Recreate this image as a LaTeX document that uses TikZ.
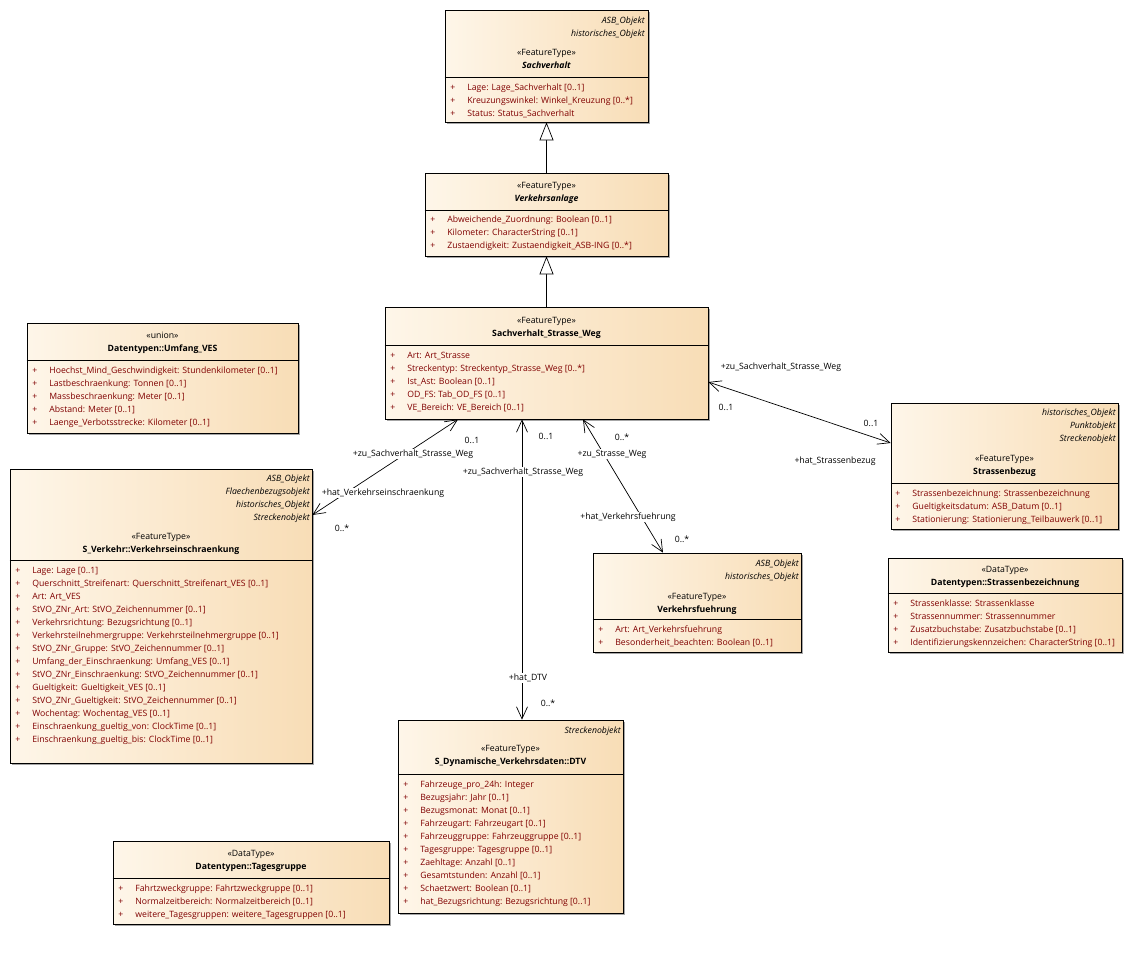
\documentclass[tikz,border=0pt]{standalone}
\usepackage{fontspec}
\setmainfont{Open Sans}
\usetikzlibrary{arrows.meta,fit,shadows}

\definecolor{boxl}{RGB}{254,246,233}
\definecolor{boxr}{RGB}{248,221,182}
\definecolor{attrred}{RGB}{128,0,0}
\newcommand{\umlfont}{\fontsize{8.7}{13}\selectfont}
\newcommand{\attrs}[1]{\begin{tabular}[t]{@{}p{17pt}@{}l@{}}#1\end{tabular}}

\tikzset{
  cls/.style={draw, inner sep=0, left color=boxl, right color=boxr,
    drop shadow={shadow xshift=2pt, shadow yshift=-2pt, fill=black!35, opacity=1}},
  tags/.style={font=\umlfont\itshape, align=right, anchor=base east, inner sep=0},
  head/.style={font=\umlfont, align=center, anchor=base, inner sep=0},
  attr/.style={font=\umlfont, text=attrred, anchor=base west, inner sep=0},
  role/.style={font=\umlfont, fill=white, inner sep=1pt},
  mult/.style={font=\umlfont, inner sep=0},
  assoc/.style={{Straight Barb[length=12pt,width=11pt]}-{Straight Barb[length=12pt,width=11pt]}},
  gen/.style={-{Triangle[open,length=18pt,width=14pt,fill=white]}}
}

\begin{document}
\begin{tikzpicture}[x=1pt,y=-1pt,line width=0.7pt]
  \fill[white] (0,0) rectangle (1138,954);
  \useasboundingbox (0,0) rectangle (1138,954);

  % Sachverhalt
  \node[cls, fit={(445,10) (648,122)}] (sv) {};
  \draw (sv.west |- 0,77) -- (sv.east |- 0,77);
  \node[tags] at (645,36) {ASB\_Objekt\\historisches\_Objekt};
  \node[head] at (sv.center |- 0,68) {«FeatureType»\\\textbf{\textit{Sachverhalt}}};
  \node[attr] at (450,90) {\attrs{+&Lage: Lage\_Sachverhalt [0..1]\\
    +&Kreuzungswinkel: Winkel\_Kreuzung [0..*]\\
    +&Status: Status\_Sachverhalt}};

  % Verkehrsanlage
  \node[cls, fit={(425,173) (668,256)}] (va) {};
  \draw (va.west |- 0,210) -- (va.east |- 0,210);
  \node[head] at (va.center |- 0,201) {«FeatureType»\\\textbf{\textit{Verkehrsanlage}}};
  \node[attr] at (430,222) {\attrs{+&Abweichende\_Zuordnung: Boolean [0..1]\\
    +&Kilometer: CharacterString [0..1]\\
    +&Zustaendigkeit: Zustaendigkeit\_ASB-ING [0..*]}};

  % Sachverhalt_Strasse_Weg
  \node[cls, fit={(385,307) (708,419)}] (ssw) {};
  \draw (ssw.west |- 0,345) -- (ssw.east |- 0,345);
  \node[head] at (ssw.center |- 0,336) {«FeatureType»\\\textbf{Sachverhalt\_Strasse\_Weg}};
  \node[attr] at (390,358) {\attrs{+&Art: Art\_Strasse\\
    +&Streckentyp: Streckentyp\_Strasse\_Weg [0..*]\\
    +&Ist\_Ast: Boolean [0..1]\\
    +&OD\_FS: Tab\_OD\_FS [0..1]\\
    +&VE\_Bereich: VE\_Bereich [0..1]}};

  % Umfang_VES
  \node[cls, fit={(27,323) (298,433)}] (uv) {};
  \draw (uv.west |- 0,360) -- (uv.east |- 0,360);
  \node[head] at (uv.center |- 0,351) {«union»\\\textbf{Datentypen::Umfang\_VES}};
  \node[attr] at (32,373) {\attrs{+&Hoechst\_Mind\_Geschwindigkeit: Stundenkilometer [0..1]\\
    +&Lastbeschraenkung: Tonnen [0..1]\\
    +&Massbeschraenkung: Meter [0..1]\\
    +&Abstand: Meter [0..1]\\
    +&Laenge\_Verbotsstrecke: Kilometer [0..1]}};

  % Verkehrseinschraenkung
  \node[cls, fit={(10,469) (312,763)}] (ve) {};
  \draw (ve.west |- 0,560) -- (ve.east |- 0,560);
  \node[tags] at (310,520) {ASB\_Objekt\\Flaechenbezugsobjekt\\historisches\_Objekt\\Streckenobjekt};
  \node[head] at (ve.center |- 0,552) {«FeatureType»\\\textbf{S\_Verkehr::Verkehrseinschraenkung}};
  \node[attr] at (15,573) {\attrs{+&Lage: Lage [0..1]\\
    +&Querschnitt\_Streifenart: Querschnitt\_Streifenart\_VES [0..1]\\
    +&Art: Art\_VES\\
    +&StVO\_ZNr\_Art: StVO\_Zeichennummer [0..1]\\
    +&Verkehrsrichtung: Bezugsrichtung [0..1]\\
    +&Verkehrsteilnehmergruppe: Verkehrsteilnehmergruppe [0..1]\\
    +&StVO\_ZNr\_Gruppe: StVO\_Zeichennummer [0..1]\\
    +&Umfang\_der\_Einschraenkung: Umfang\_VES [0..1]\\
    +&StVO\_ZNr\_Einschraenkung: StVO\_Zeichennummer [0..1]\\
    +&Gueltigkeit: Gueltigkeit\_VES [0..1]\\
    +&StVO\_ZNr\_Gueltigkeit: StVO\_Zeichennummer [0..1]\\
    +&Wochentag: Wochentag\_VES [0..1]\\
    +&Einschraenkung\_gueltig\_von: ClockTime [0..1]\\
    +&Einschraenkung\_gueltig\_bis: ClockTime [0..1]}};

  % Strassenbezug
  \node[cls, fit={(891,403) (1118,529)}] (sb) {};
  \draw (sb.west |- 0,483) -- (sb.east |- 0,483);
  \node[tags] at (1116,441) {historisches\_Objekt\\Punktobjekt\\Streckenobjekt};
  \node[head] at (sb.center |- 0,474) {«FeatureType»\\\textbf{Strassenbezug}};
  \node[attr] at (895,496) {\attrs{+&Strassenbezeichnung: Strassenbezeichnung\\
    +&Gueltigkeitsdatum: ASB\_Datum [0..1]\\
    +&Stationierung: Stationierung\_Teilbauwerk [0..1]}};

  % Verkehrsfuehrung
  \node[cls, fit={(593,553) (801,652)}] (vf) {};
  \draw (vf.west |- 0,619) -- (vf.east |- 0,619);
  \node[tags] at (799,579) {ASB\_Objekt\\historisches\_Objekt};
  \node[head] at (vf.center |- 0,612) {«FeatureType»\\\textbf{Verkehrsfuehrung}};
  \node[attr] at (598,632) {\attrs{+&Art: Art\_Verkehrsfuehrung\\
    +&Besonderheit\_beachten: Boolean [0..1]}};

  % Strassenbezeichnung
  \node[cls, fit={(888,558) (1122,652)}] (sz) {};
  \draw (sz.west |- 0,593) -- (sz.east |- 0,593);
  \node[head] at (sz.center |- 0,585) {«DataType»\\\textbf{Datentypen::Strassenbezeichnung}};
  \node[attr] at (893,606) {\attrs{+&Strassenklasse: Strassenklasse\\
    +&Strassennummer: Strassennummer\\
    +&Zusatzbuchstabe: Zusatzbuchstabe [0..1]\\
    +&Identifizierungskennzeichen: CharacterString [0..1]}};

  % DTV
  \node[cls, fit={(398,720) (623,913)}] (dt) {};
  \draw (dt.west |- 0,774) -- (dt.east |- 0,774);
  \node[tags] at (621,733) {Streckenobjekt};
  \node[head] at (dt.center |- 0,764) {«FeatureType»\\\textbf{S\_Dynamische\_Verkehrsdaten::DTV}};
  \node[attr] at (403,787) {\attrs{+&Fahrzeuge\_pro\_24h: Integer\\
    +&Bezugsjahr: Jahr [0..1]\\
    +&Bezugsmonat: Monat [0..1]\\
    +&Fahrzeugart: Fahrzeugart [0..1]\\
    +&Fahrzeuggruppe: Fahrzeuggruppe [0..1]\\
    +&Tagesgruppe: Tagesgruppe [0..1]\\
    +&Zaehltage: Anzahl [0..1]\\
    +&Gesamtstunden: Anzahl [0..1]\\
    +&Schaetzwert: Boolean [0..1]\\
    +&hat\_Bezugsrichtung: Bezugsrichtung [0..1]}};

  % Tagesgruppe
  \node[cls, fit={(113,841) (389,924)}] (tg) {};
  \draw (tg.west |- 0,878) -- (tg.east |- 0,878);
  \node[head] at (tg.center |- 0,869) {«DataType»\\\textbf{Datentypen::Tagesgruppe}};
  \node[attr] at (118,891) {\attrs{+&Fahrtzweckgruppe: Fahrtzweckgruppe [0..1]\\
    +&Normalzeitbereich: Normalzeitbereich [0..1]\\
    +&weitere\_Tagesgruppen: weitere\_Tagesgruppen [0..1]}};

  % connectors
  \draw[gen] (va.north) -- (sv.south);
  \draw[gen] (ssw.north) -- (va.south);
  \draw[assoc] (ssw.south -| 458,0) -- (ve.east |- 0,515);
  \draw[assoc] (ssw.south -| 522,0) -- (dt.north -| 522,0);
  \draw[assoc] (ssw.south -| 583,0) -- (vf.north -| 663,0);
  \draw[assoc] (ssw.east |- 0,382) -- (sb.west |- 0,443);

  \node[role] at (413,454) {+zu\_Sachverhalt\_Strasse\_Weg};
  \node[mult] at (472,440) {0..1};
  \node[role] at (383,493) {+hat\_Verkehrseinschraenkung};
  \node[mult] at (342,528) {0..*};
  \node[role] at (523,472) {+zu\_Sachverhalt\_Strasse\_Weg};
  \node[mult] at (546,436) {0..1};
  \node[role] at (528,678) {+hat\_DTV};
  \node[mult] at (548,703) {0..*};
  \node[role] at (612,454) {+zu\_Strasse\_Weg};
  \node[mult] at (622,437) {0..*};
  \node[role] at (628,517) {+hat\_Verkehrsfuehrung};
  \node[mult] at (682,539) {0..*};
  \node[role] at (781,367) {+zu\_Sachverhalt\_Strasse\_Weg};
  \node[mult] at (726,407) {0..1};
  \node[mult] at (871,423) {0..1};
  \node[role] at (835,461) {+hat\_Strassenbezug};
\end{tikzpicture}
\end{document}
